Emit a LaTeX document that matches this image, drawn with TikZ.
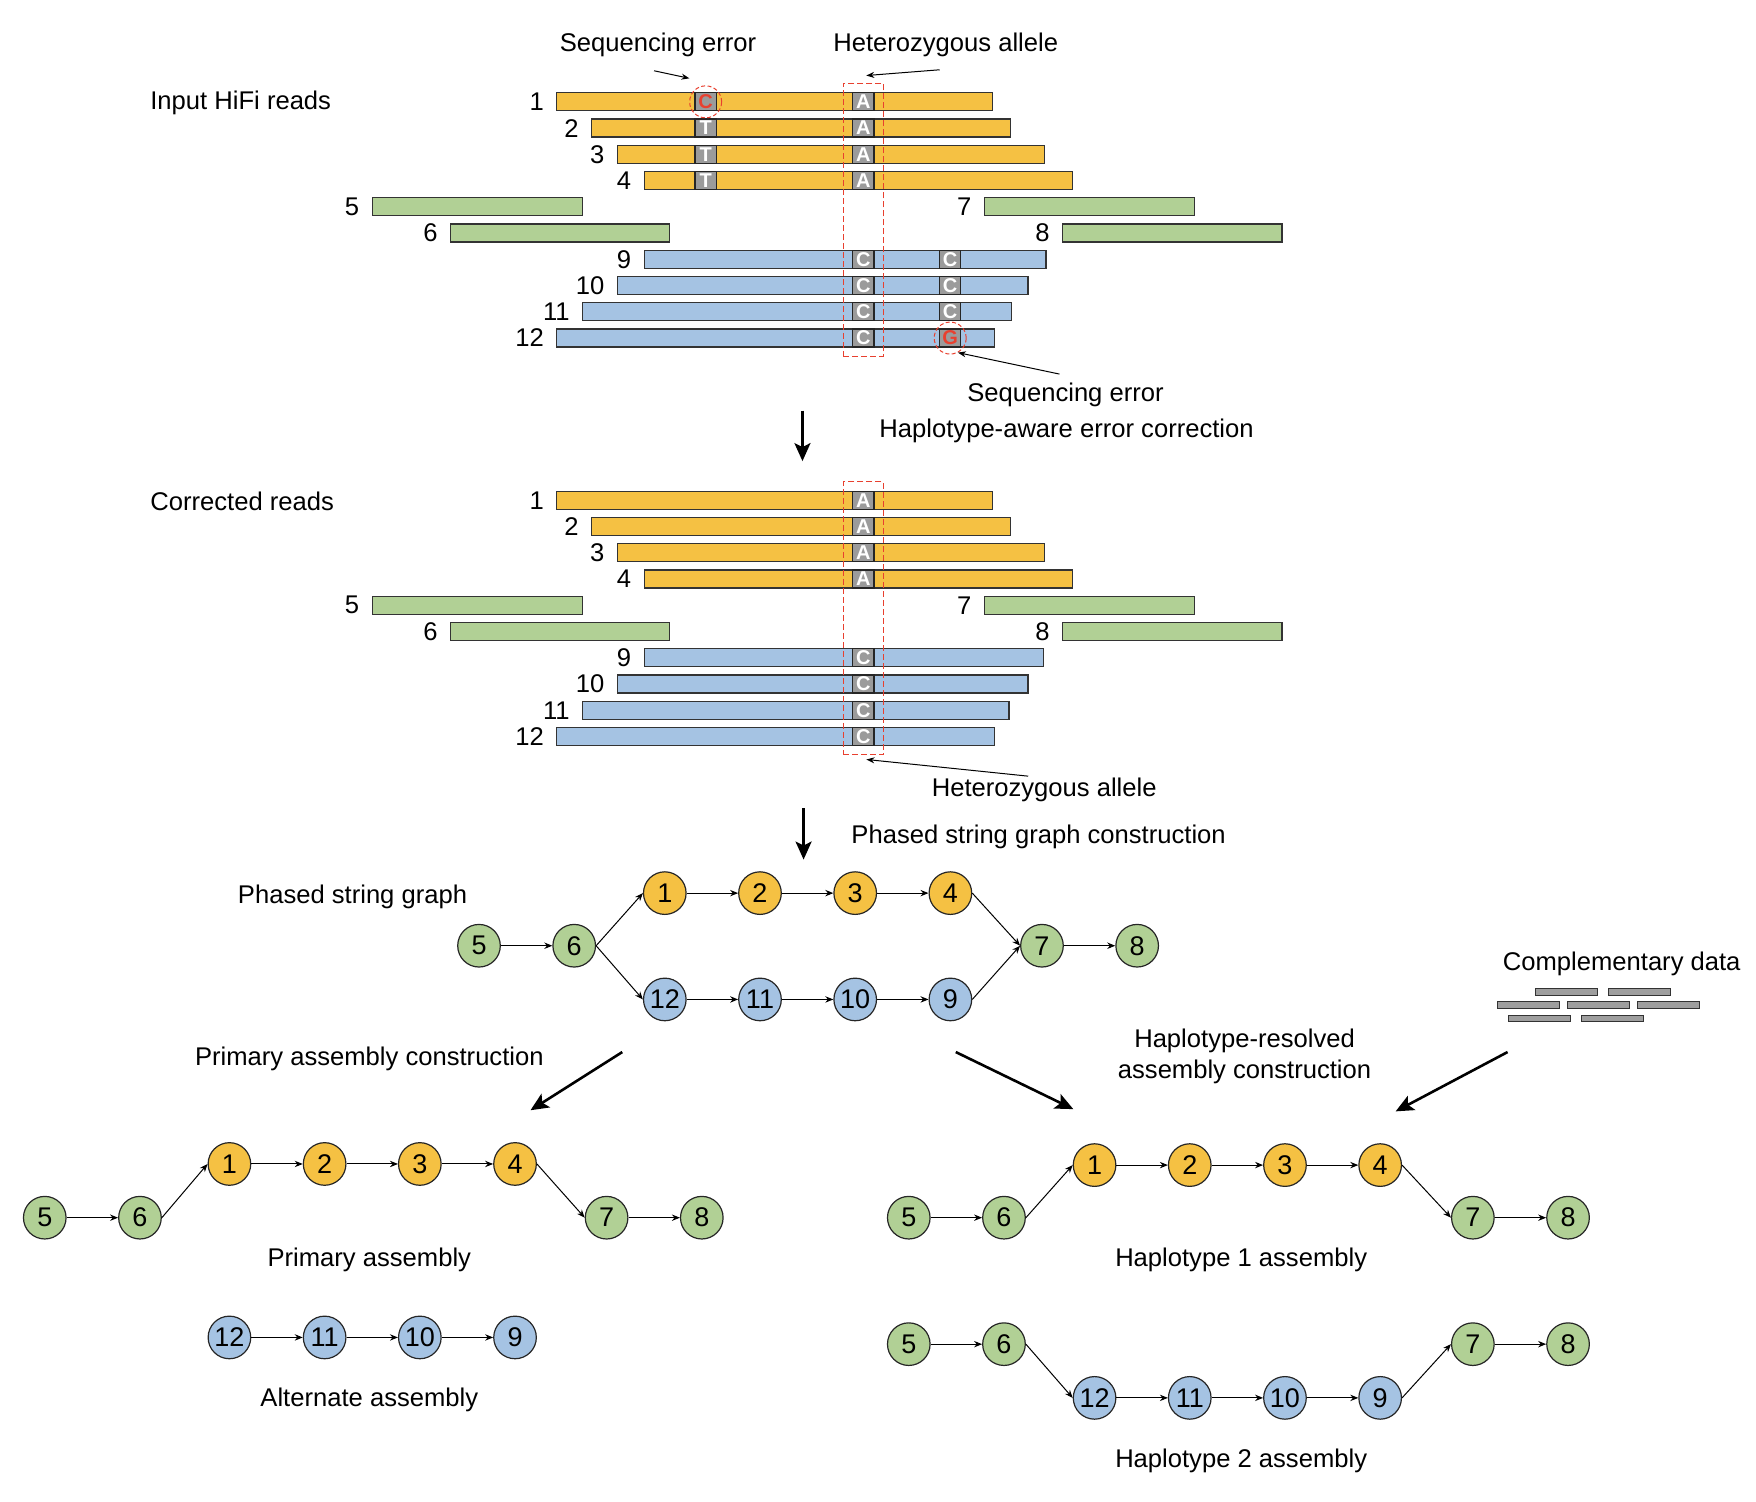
\documentclass[tikz,border=0pt]{standalone}
\usepackage{fontspec}
\setmainfont{Liberation Sans}
\usetikzlibrary{positioning,fit,calc,arrows.meta}

\definecolor{hapone}{HTML}{F5C143}
\definecolor{haptwo}{HTML}{A5C3E3}
\definecolor{homo}{HTML}{B1D095}
\definecolor{sitegray}{HTML}{9B9B9B}
\definecolor{errred}{HTML}{E8402F}

\begin{document}
\begin{tikzpicture}[
  x=0.5596pt, y=-0.5596pt,
  node distance=25.7pt,
  font=\fontsize{12.8}{15.4}\selectfont,
  heading/.style={anchor=west, inner xsep=0pt},
  readbar/.style={draw=black!80, line width=0.6pt, minimum height=9pt, inner sep=0pt, anchor=west},
  readno/.style={anchor=east, inner sep=0pt, xshift=-6pt},
  site/.style={draw=black!85, fill=sitegray, line width=0.6pt, minimum width=10.6pt, minimum height=9pt, inner sep=0pt, text=white, font=\fontsize{10}{10}\selectfont\bfseries},
  errsite/.style={site, text=errred},
  errring/.style={circle, draw=errred, dash pattern=on 2pt off 1.2pt, line width=0.5pt, minimum size=16pt, inner sep=0pt},
  allelebox/.style={draw=errred, dash pattern=on 3pt off 1.5pt, line width=0.6pt, inner xsep=4.4pt, inner ysep=4.4pt},
  seg/.style={circle, draw=black!85, line width=0.6pt, minimum size=21.3pt, inner sep=0pt, font=\fontsize{13.5}{13.5}\selectfont},
  hapA/.style={seg, fill=hapone},
  hapB/.style={seg, fill=haptwo},
  shared/.style={seg, fill=homo},
  link/.style={-{Stealth[length=4pt,width=3.2pt]}, line width=0.5pt},
  note/.style={-{Stealth[length=4pt,width=3pt]}, line width=0.5pt},
  flow/.style={-{Stealth[length=9pt,width=8pt,inset=2pt]}, line width=1.3pt},
  extra/.style={draw=black!80, fill=black!38, line width=0.5pt, minimum width=31pt, minimum height=3.4pt, inner sep=0pt}
]
  \useasboundingbox (0,0) rectangle (1569,1342);

  \coordinate (snpT) at (630.5,0);
  \coordinate (snpA) at (771.5,0);
  \coordinate (snpC) at (849,0);

  % input reads
  \node[heading] (inlabel) at (134,92) {Input HiFi reads};
  \foreach \n/\a/\b/\r/\c in {1/497/886/1/hapone, 2/528/902/2/hapone, 3/551/933/3/hapone, 4/575/958/4/hapone,
      5/332/520/5/homo, 7/879/1067/5/homo, 6/402/598/6/homo, 8/949/1145/6/homo,
      9/575/934/7/haptwo, 10/551/918/8/haptwo, 11/520/903/9/haptwo, 12/497/888/10/haptwo} {
    \pgfmathsetmacro\yy{91+(\r-1)*23.45}
    \node[readbar, fill=\c, minimum width={(\b-\a)*0.5596pt}] (r\n) at (\a,\yy) {};
    \node[readno] at (r\n.west) {\n};
  }
  \node[errsite] (t1) at (snpT |- r1) {C};
  \foreach \n in {2,3,4} \node[site] (t\n) at (snpT |- r\n) {T};
  \foreach \n in {1,...,4} \node[site] (h\n) at (snpA |- r\n) {A};
  \foreach \n in {9,...,12} \node[site] (h\n) at (snpA |- r\n) {C};
  \foreach \n in {9,10,11} \node[site] (s\n) at (snpC |- r\n) {C};
  \node[errsite] (s12) at (snpC |- r12) {G};
  \node[errring] (e1) at (t1) {};
  \node[errring] (e12) at (s12) {};
  \node[allelebox, fit=(h1)(h12)] (hbox) {};

  \node (lse1) at (588,40) {Sequencing error};
  \node (lhet1) at (845,40) {Heterozygous allele};
  \node (lse2) at (952,353) {Sequencing error};
  \node (lcorr) at (953,385) {Haplotype-aware error correction};
  \coordinate (se1tip) at (616,70);
  \coordinate (het1tip) at (774,67.5);
  \draw[note] ([shift={(-2pt,-3.5pt)}]lse1.south) -- (se1tip);
  \draw[note] ([shift={(-3pt,-3pt)}]lhet1.south) -- (het1tip);
  \draw[note] ([shift={(-3pt,1pt)}]lse2.north) -- (e12.-62);

  \coordinate (down1a) at (717,367);
  \coordinate (down1b) at (717,412);
  \draw[flow] (down1a) -- (down1b);

  % corrected reads
  \node[heading] (corlabel) at (134,448) {Corrected reads};
  \foreach \n/\a/\b/\r/\c in {1/497/886/1/hapone, 2/528/902/2/hapone, 3/551/933/3/hapone, 4/575/958/4/hapone,
      5/332/520/5/homo, 7/879/1067/5/homo, 6/402/598/6/homo, 8/949/1145/6/homo,
      9/575/932/7/haptwo, 10/551/918/8/haptwo, 11/520/901/9/haptwo, 12/497/888/10/haptwo} {
    \pgfmathsetmacro\yy{447+(\r-1)*23.45}
    \node[readbar, fill=\c, minimum width={(\b-\a)*0.5596pt}] (c\n) at (\a,\yy) {};
    \node[readno] at (c\n.west) {\n};
  }
  \foreach \n in {1,...,4} \node[site] (ch\n) at (snpA |- c\n) {A};
  \foreach \n in {9,...,12} \node[site] (ch\n) at (snpA |- c\n) {C};
  \node[allelebox, fit=(ch1)(ch12)] (cbox) {};

  \node (lhet2) at (933,706) {Heterozygous allele};
  \draw[note] ([shift={(-8pt,-2.5pt)}]lhet2.north) -- ([shift={(1.5pt,-2pt)}]cbox.south);

  \coordinate (down2a) at (718,722);
  \coordinate (down2b) at (718,768);
  \draw[flow] (down2a) -- (down2b);
  \node (lpsg) at (928,748) {Phased string graph construction};

  % phased string graph
  \node (psglabel) at (315,801) {Phased string graph};
  \node[shared] (pg5) at (428,845) {5};
  \node[shared, right=of pg5] (pg6) {6};
  \node[hapA] (pg1) at (594,798) {1};
  \node[hapA, right=of pg1] (pg2) {2};
  \node[hapA, right=of pg2] (pg3) {3};
  \node[hapA, right=of pg3] (pg4) {4};
  \node[hapB] (pg12) at (594,893) {12};
  \node[hapB, right=of pg12] (pg11) {11};
  \node[hapB, right=of pg11] (pg10) {10};
  \node[hapB, right=of pg10] (pg9) {9};
  \node[shared] (pg7) at (931,845) {7};
  \node[shared, right=of pg7] (pg8) {8};
  \foreach \a/\b in {5/6,6/1,1/2,2/3,3/4,4/7,6/12,12/11,11/10,10/9,9/7,7/8}
    \draw[link] (pg\a.east) -- (pg\b.west);

  % complementary data
  \node (lcomp) at (1449,861) {Complementary data};
  \foreach \i/\x/\y in {1/1399.5/886, 2/1464.5/886, 3/1365.5/898, 4/1428.5/898, 5/1490.5/898, 6/1375.5/910, 7/1440.5/910}
    \node[extra] (cd\i) at (\x,\y) {};

  \node (lprimc) at (330,946) {Primary assembly construction};
  \node[align=center] (lhapc) at (1112,944) {Haplotype-resolved\\assembly construction};
  \coordinate (prim0) at (556,940);
  \coordinate (prim1) at (474,992);
  \coordinate (hap0) at (854,940);
  \coordinate (hap1) at (959,991);
  \coordinate (comp0) at (1347,940);
  \coordinate (comp1) at (1247,993);
  \draw[flow] (prim0) -- (prim1);
  \draw[flow] (hap0) -- (hap1);
  \draw[flow] (comp0) -- (comp1);

  % primary and alternate assembly
  \node[shared] (pa5) at (40,1088) {5};
  \node[shared, right=of pa5] (pa6) {6};
  \node[hapA] (pa1) at (205,1040) {1};
  \node[hapA, right=of pa1] (pa2) {2};
  \node[hapA, right=of pa2] (pa3) {3};
  \node[hapA, right=of pa3] (pa4) {4};
  \node[shared] (pa7) at (542,1088) {7};
  \node[shared, right=of pa7] (pa8) {8};
  \node (lprim) at (330,1126) {Primary assembly};

  \node[hapB] (alt12) at (205,1195) {12};
  \node[hapB, right=of alt12] (alt11) {11};
  \node[hapB, right=of alt11] (alt10) {10};
  \node[hapB, right=of alt10] (alt9) {9};
  \node (lalt) at (330,1251) {Alternate assembly};

  % haplotype assemblies
  \node[shared] (ha5) at (812,1088) {5};
  \node[shared, right=of ha5] (ha6) {6};
  \node[hapA] (ha1) at (978,1041) {1};
  \node[hapA, right=of ha1] (ha2) {2};
  \node[hapA, right=of ha2] (ha3) {3};
  \node[hapA, right=of ha3] (ha4) {4};
  \node[shared] (ha7) at (1316,1088) {7};
  \node[shared, right=of ha7] (ha8) {8};
  \node (lhap1) at (1109,1126) {Haplotype 1 assembly};

  \node[shared] (hb5) at (812,1201) {5};
  \node[shared, right=of hb5] (hb6) {6};
  \node[hapB] (hb12) at (978,1249) {12};
  \node[hapB, right=of hb12] (hb11) {11};
  \node[hapB, right=of hb11] (hb10) {10};
  \node[hapB, right=of hb10] (hb9) {9};
  \node[shared] (hb7) at (1316,1201) {7};
  \node[shared, right=of hb7] (hb8) {8};
  \node (lhap2) at (1109,1305) {Haplotype 2 assembly};

  \foreach \a/\b in {5/6,6/1,1/2,2/3,3/4,4/7,7/8} {
    \draw[link] (pa\a.east) -- (pa\b.west);
    \draw[link] (ha\a.east) -- (ha\b.west);
  }
  \foreach \a/\b in {12/11,11/10,10/9}
    \draw[link] (alt\a.east) -- (alt\b.west);
  \foreach \a/\b in {5/6,6/12,12/11,11/10,10/9,9/7,7/8}
    \draw[link] (hb\a.east) -- (hb\b.west);
\end{tikzpicture}
\end{document}
